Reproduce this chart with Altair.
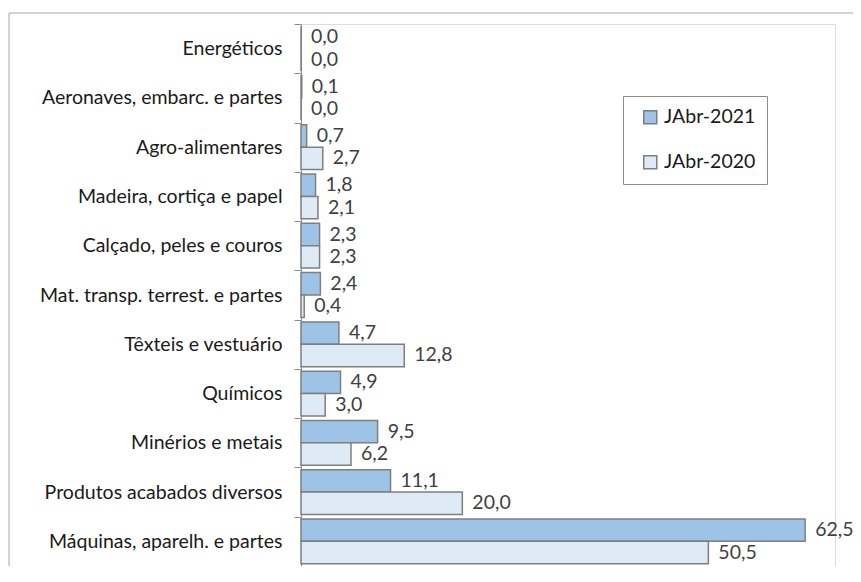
import altair as alt
import pandas as pd

categories = [
    "Energéticos",
    "Aeronaves, embarc. e partes",
    "Agro-alimentares",
    "Madeira, cortiça e papel",
    "Calçado, peles e couros",
    "Mat. transp. terrest. e partes",
    "Têxteis e vestuário",
    "Químicos",
    "Minérios e metais",
    "Produtos acabados diversos",
    "Máquinas, aparelh. e partes",
]
v2021 = [0.0, 0.1, 0.7, 1.8, 2.3, 2.4, 4.7, 4.9, 9.5, 11.1, 62.5]
v2020 = [0.0, 0.0, 2.7, 2.1, 2.3, 0.4, 12.8, 3.0, 6.2, 20.0, 50.5]
series = ["JAbr-2021", "JAbr-2020"]
colors = ["#9DC3E6", "#DEEBF7"]

rows = []
for c, a, b in zip(categories, v2021, v2020):
    rows.append({"cat": c, "serie": series[0], "v": a, "lbl": f"{a:.1f}".replace(".", ",")})
    rows.append({"cat": c, "serie": series[1], "v": b, "lbl": f"{b:.1f}".replace(".", ",")})
df = pd.DataFrame(rows)
border_df = pd.DataFrame([{"k": 0}])

W, H = 534, 542
FONT = "Lato"

y_enc = alt.Y("cat:N", sort=categories, title=None,
              scale=alt.Scale(paddingInner=0, paddingOuter=0),
              axis=alt.Axis(tickBand="extent", tickSize=7, labelPadding=12,
                            labelFont=FONT, labelFontSize=19.5, labelColor="#1a1a1a",
                            domainColor="#8c8c8c", tickColor="#8c8c8c",
                            labelLimit=400))
yoff = alt.YOffset("serie:N", sort=series,
                   scale=alt.Scale(paddingOuter=0.1, paddingInner=0))
x_enc = alt.X("v:Q", title=None, scale=alt.Scale(domain=[0, 66.2], nice=False),
              axis=None)

bars = alt.Chart(df).mark_bar(stroke="#7f7f7f", strokeWidth=1.5).encode(
    x=x_enc, y=y_enc, yOffset=yoff,
    color=alt.Color("serie:N", sort=series,
                    scale=alt.Scale(domain=series, range=colors),
                    legend=alt.Legend(title=None, orient="none", legendX=322, legendY=72,
                                      strokeColor="#8c8c8c", padding=11.5,
                                      labelFont=FONT, labelFontSize=19.5, labelColor="#1a1a1a",
                                      symbolType="square", symbolSize=169, symbolOffset=6,
                                      symbolStrokeColor="#7f7f7f", symbolStrokeWidth=1.5,
                                      rowPadding=24, labelOffset=4)),
)

text = alt.Chart(df).mark_text(align="left", baseline="middle", dx=10,
                               font=FONT, fontSize=19.5, color="#404040").encode(
    x=x_enc, y=y_enc, yOffset=yoff, text="lbl:N")

top_line = alt.Chart(border_df).mark_rule(color="#a6a6a6", strokeWidth=1).encode(
    x=alt.value(-292), x2=alt.value(W + 18), y=alt.value(-11))
left_line = alt.Chart(border_df).mark_rule(color="#a6a6a6", strokeWidth=1).encode(
    x=alt.value(-292), y=alt.value(-11), y2=alt.value(H + 16))

chart = alt.layer(top_line, left_line, bars, text).properties(
    width=W, height=H,
    autosize=alt.AutoSizeParams(type="none"),
    padding={"left": 293, "top": 16, "right": 18, "bottom": 0},
).configure_view(stroke="transparent", strokeWidth=0).configure(background="white")

chart.save("out.html", embed_options={"renderer": "svg", "actions": False})
